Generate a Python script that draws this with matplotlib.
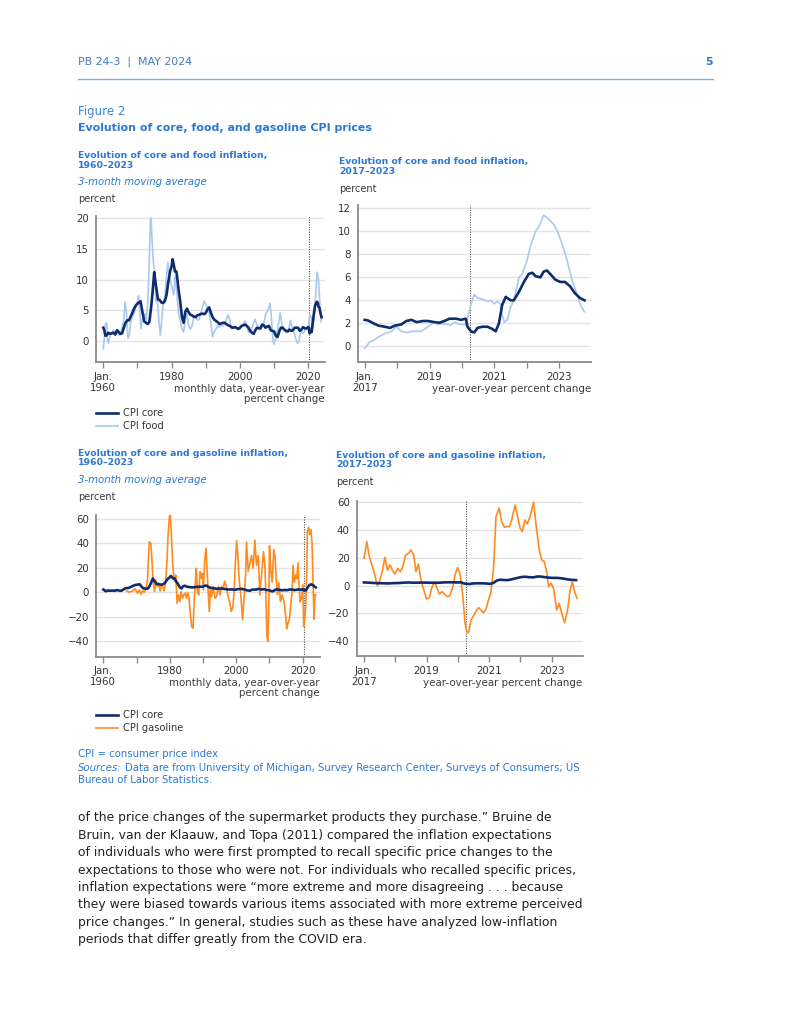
import matplotlib
matplotlib.use('Agg')
import matplotlib.pyplot as plt
from matplotlib.lines import Line2D

# ---------------- data ----------------
core_long = [(1960.0, 2.2), (1960.3, 1.8), (1960.6, 0.9), (1961.0, 1.0), (1961.5, 1.4), (1962.0, 1.2),
             (1962.5, 1.3), (1963.0, 1.4), (1963.5, 1.1), (1964.0, 1.8), (1964.5, 1.5), (1965.0, 1.2),
             (1965.5, 1.3), (1966.0, 2.2), (1966.5, 3.0), (1967.0, 3.4), (1967.5, 3.4), (1968.0, 4.0),
             (1968.5, 4.6), (1969.0, 5.3), (1969.5, 5.8), (1970.0, 6.1), (1970.5, 6.3), (1970.9, 6.5),
             (1971.5, 4.6), (1972.0, 3.2), (1972.5, 3.0), (1973.0, 2.8), (1973.5, 3.2), (1974.0, 5.5),
             (1974.4, 7.8), (1974.9, 11.2), (1975.3, 9.5), (1975.7, 8.0), (1976.0, 6.8), (1976.5, 6.7),
             (1977.0, 6.3), (1977.5, 6.2), (1978.0, 6.5), (1978.5, 7.5), (1979.0, 9.5), (1979.5, 11.2),
             (1980.0, 12.2), (1980.3, 13.3), (1980.7, 12.2), (1981.0, 11.3), (1981.4, 11.3), (1981.7, 10.0),
             (1982.0, 8.5), (1982.5, 6.5), (1983.0, 4.0), (1983.5, 3.0), (1984.0, 4.8), (1984.5, 5.3),
             (1985.0, 4.7), (1985.5, 4.3), (1986.0, 4.2), (1986.5, 4.0), (1987.0, 3.9), (1987.5, 4.2),
             (1988.0, 4.3), (1988.5, 4.4), (1989.0, 4.5), (1989.5, 4.4), (1990.0, 4.6), (1990.5, 5.2),
             (1991.0, 5.5), (1991.5, 4.6), (1992.0, 3.9), (1992.5, 3.5), (1993.0, 3.3), (1993.5, 3.1),
             (1994.0, 2.8), (1994.5, 2.9), (1995.0, 3.0), (1995.5, 3.0), (1996.0, 2.8), (1996.5, 2.6),
             (1997.0, 2.5), (1997.5, 2.3), (1998.0, 2.2), (1998.5, 2.3), (1999.0, 2.2), (1999.5, 2.0),
             (2000.0, 2.2), (2000.5, 2.5), (2001.0, 2.6), (2001.5, 2.7), (2002.0, 2.5), (2002.5, 2.2),
             (2003.0, 1.7), (2003.5, 1.4), (2004.0, 1.2), (2004.5, 1.8), (2005.0, 2.2), (2005.5, 2.1),
             (2006.0, 2.1), (2006.5, 2.7), (2007.0, 2.6), (2007.5, 2.2), (2008.0, 2.4), (2008.5, 2.5),
             (2009.0, 1.8), (2009.5, 1.7), (2010.0, 1.6), (2010.5, 0.9), (2011.0, 0.7), (2011.5, 1.6),
             (2012.0, 2.2), (2012.5, 2.2), (2013.0, 1.9), (2013.5, 1.7), (2014.0, 1.6), (2014.5, 1.9),
             (2015.0, 1.7), (2015.5, 1.8), (2016.0, 2.2), (2016.5, 2.2), (2017.0, 2.2), (2017.5, 1.7),
             (2018.0, 1.9), (2018.5, 2.3), (2019.0, 2.1), (2019.5, 2.1), (2020.0, 2.3), (2020.2, 2.2),
             (2020.4, 1.3), (2020.7, 1.7), (2021.0, 1.5), (2021.3, 3.0), (2021.6, 4.3), (2022.0, 5.8),
             (2022.3, 6.2), (2022.6, 6.4), (2022.8, 6.2), (2023.0, 5.6), (2023.3, 5.4), (2023.6, 4.5),
             (2023.9, 3.9)]

food_long = [(1960.0, -1.2), (1960.3, 0.5), (1960.6, 2.8), (1961.0, 3.0), (1961.2, 0.2), (1961.5, -0.3),
             (1962.0, 1.0), (1962.5, 1.5), (1963.0, 1.8), (1963.5, 1.0), (1964.0, 1.8), (1964.5, 1.0),
             (1965.0, 1.2), (1965.5, 2.2), (1966.0, 3.5), (1966.4, 6.4), (1966.8, 4.5), (1967.2, 0.5),
             (1967.6, 1.0), (1968.0, 3.0), (1968.5, 4.0), (1969.0, 4.5), (1969.5, 5.5), (1970.0, 6.5),
             (1970.3, 7.4), (1970.7, 5.0), (1971.0, 2.0), (1971.4, 3.5), (1971.8, 4.2), (1972.2, 4.5),
             (1972.6, 3.5), (1973.0, 6.0), (1973.4, 12.0), (1973.8, 19.5), (1974.0, 20.0), (1974.3, 16.0),
             (1974.7, 12.5), (1975.0, 11.5), (1975.4, 6.5), (1975.8, 7.0), (1976.3, 3.0), (1976.7, 1.0),
             (1977.2, 4.0), (1977.6, 6.5), (1978.0, 7.0), (1978.5, 10.5), (1978.9, 12.8), (1979.3, 10.5),
             (1979.8, 9.5), (1980.2, 8.5), (1980.6, 7.5), (1981.0, 10.5), (1981.5, 8.0), (1982.0, 4.5),
             (1982.5, 3.5), (1983.0, 2.0), (1983.5, 1.5), (1984.0, 3.5), (1984.5, 4.5), (1985.0, 2.5),
             (1985.5, 2.0), (1986.0, 2.5), (1986.5, 4.0), (1987.0, 4.2), (1987.5, 3.5), (1988.0, 3.5),
             (1988.5, 4.5), (1989.0, 5.5), (1989.5, 6.5), (1990.0, 6.0), (1990.5, 5.5), (1991.0, 4.5),
             (1991.5, 3.0), (1992.0, 0.7), (1992.4, 1.5), (1993.0, 2.0), (1993.5, 2.5), (1994.0, 2.3),
             (1994.5, 2.6), (1995.0, 2.5), (1995.5, 2.8), (1996.0, 3.5), (1996.5, 4.3), (1997.0, 3.5),
             (1997.5, 2.0), (1998.0, 2.3), (1998.5, 2.3), (1999.0, 2.0), (1999.5, 2.0), (2000.0, 2.0),
             (2000.5, 2.5), (2001.0, 2.8), (2001.5, 3.3), (2002.0, 2.5), (2002.5, 1.5), (2003.0, 1.4),
             (2003.5, 2.2), (2004.0, 3.0), (2004.4, 3.6), (2005.0, 2.7), (2005.5, 2.3), (2006.0, 2.0),
             (2006.5, 2.4), (2007.0, 3.0), (2007.6, 4.5), (2008.0, 4.8), (2008.5, 5.5), (2008.8, 6.2),
             (2009.2, 4.0), (2009.6, 0.5), (2009.9, -0.5), (2010.4, 0.4), (2010.8, 1.0), (2011.3, 2.8),
             (2011.8, 4.6), (2012.2, 3.0), (2012.6, 2.0), (2013.0, 1.8), (2013.5, 1.4), (2014.0, 1.5),
             (2014.5, 2.5), (2014.8, 3.4), (2015.3, 2.2), (2015.8, 1.5), (2016.3, 0.5), (2016.8, -0.3),
             (2017.2, -0.2), (2017.6, 1.2), (2018.0, 1.6), (2018.5, 1.3), (2019.0, 1.8), (2019.5, 2.0),
             (2020.0, 1.9), (2020.3, 3.8), (2020.5, 4.3), (2021.0, 3.8), (2021.4, 2.3), (2021.8, 4.5),
             (2022.2, 8.0), (2022.6, 11.2), (2023.0, 10.0), (2023.4, 6.0), (2023.8, 3.2)]

gas_long = [(1967.0, 1.0), (1967.8, 0.0), (1968.8, 1.0), (1969.6, 2.7), (1970.3, -0.8), (1970.8, 1.9),
            (1971.3, -1.6), (1971.8, 1.1), (1972.3, 0.0), (1972.8, 2.7), (1973.3, 10.0), (1973.8, 41.0),
            (1974.3, 40.0), (1974.6, 27.8), (1975.0, 8.7), (1975.4, 0.5), (1975.8, 10.0), (1976.2, 4.6),
            (1976.6, 7.3), (1977.1, 1.0), (1977.5, 6.0), (1977.9, 4.6), (1978.3, 1.0), (1978.7, 7.3),
            (1979.1, 22.3), (1979.5, 46.8), (1979.9, 61.8), (1980.2, 63.0), (1980.6, 38.6), (1980.9, 22.3),
            (1981.2, 14.0), (1981.5, 8.7), (1981.8, 14.0), (1982.2, -9.0), (1982.6, -2.2), (1983.0, -7.6),
            (1983.4, 0.5), (1983.8, -4.9), (1984.2, -2.2), (1984.6, -0.8), (1985.0, -4.9), (1985.4, 0.0),
            (1985.8, -4.9), (1986.2, -18.5), (1986.6, -28.0), (1987.0, -29.4), (1987.4, -4.9), (1987.7, 8.7),
            (1988.0, 19.6), (1988.3, 0.5), (1988.7, -2.2), (1989.1, 16.9), (1989.5, 11.4), (1989.8, 15.5),
            (1990.1, 1.9), (1990.5, 25.0), (1990.9, 36.0), (1991.3, 14.0), (1991.6, -2.2), (1991.9, -15.7),
            (1992.2, 3.2), (1992.6, -3.5), (1993.1, 4.6), (1993.6, -4.9), (1994.1, -3.5), (1994.6, 4.6),
            (1995.1, -2.2), (1995.6, 4.6), (1996.1, 3.0), (1996.5, 9.0), (1997.0, 5.0), (1997.5, -3.0),
            (1998.0, -8.0), (1998.5, -15.7), (1999.0, -12.0), (1999.4, 2.0), (1999.7, 22.0), (2000.1, 42.0),
            (2000.5, 30.0), (2000.9, 8.6), (2001.3, 0.5), (2001.9, -22.4), (2002.3, -7.6), (2002.8, 14.0),
            (2003.1, 41.0), (2003.6, 16.8), (2004.0, 22.0), (2004.6, 30.0), (2005.1, 19.5), (2005.6, 42.4),
            (2006.1, 22.0), (2006.6, 30.0), (2007.1, -2.2), (2007.6, 14.0), (2008.2, 33.0), (2008.6, 22.0),
            (2008.9, 0.5), (2009.2, -35.0), (2009.5, -40.0), (2009.8, -10.0), (2010.0, 38.0), (2010.4, 18.0),
            (2010.8, 8.0), (2011.3, 35.0), (2011.7, 28.0), (2012.0, 12.0), (2012.4, -2.0), (2012.8, 8.0),
            (2013.3, -7.6), (2013.8, -2.0), (2014.4, -8.0), (2014.9, -20.0), (2015.2, -30.0), (2015.6, -25.0),
            (2016.0, -22.0), (2016.4, -10.0), (2016.8, 0.0), (2017.1, 22.0), (2017.5, 8.0), (2017.9, 14.0),
            (2018.2, 11.0), (2018.6, 24.0), (2018.9, 5.0), (2019.2, -8.0), (2019.6, -5.0), (2020.0, 6.0),
            (2020.3, -28.0), (2020.6, -22.0), (2020.9, -12.0), (2021.2, 14.0), (2021.4, 50.0), (2021.8, 53.0),
            (2022.1, 47.0), (2022.5, 51.0), (2022.8, 40.0), (2023.1, 10.0), (2023.4, -22.0), (2023.7, -2.0),
            (2023.9, -2.0)]

core_short = [(2017.0, 2.3), (2017.1, 2.25), (2017.27, 2.0), (2017.42, 1.8), (2017.62, 1.7), (2017.78, 1.6),
              (2017.93, 1.8), (2018.13, 1.9), (2018.28, 2.2), (2018.44, 2.3), (2018.6, 2.1), (2018.8, 2.2),
              (2018.95, 2.2), (2019.15, 2.1), (2019.3, 2.05), (2019.46, 2.2), (2019.61, 2.4), (2019.82, 2.4),
              (2019.97, 2.3), (2020.12, 2.4), (2020.17, 1.7), (2020.28, 1.3), (2020.38, 1.2), (2020.48, 1.6),
              (2020.63, 1.7), (2020.79, 1.7), (2020.94, 1.5), (2021.04, 1.3), (2021.14, 2.0), (2021.24, 3.6),
              (2021.35, 4.3), (2021.5, 4.0), (2021.6, 4.0), (2021.76, 4.75), (2021.91, 5.6), (2022.06, 6.3),
              (2022.17, 6.4), (2022.27, 6.1), (2022.42, 6.0), (2022.52, 6.5), (2022.62, 6.6), (2022.72, 6.3),
              (2022.88, 5.8), (2023.03, 5.6), (2023.18, 5.6), (2023.34, 5.2), (2023.49, 4.6), (2023.64, 4.2),
              (2023.78, 4.0)]

food_short = [(2017.0, -0.2), (2017.16, 0.4), (2017.27, 0.5), (2017.42, 0.8), (2017.62, 1.1), (2017.83, 1.3),
              (2017.98, 1.7), (2018.13, 1.3), (2018.32, 1.2), (2018.44, 1.3), (2018.74, 1.3), (2018.95, 1.7),
              (2019.15, 2.1), (2019.26, 1.9), (2019.46, 1.95), (2019.66, 1.85), (2019.77, 2.1), (2019.92, 1.9),
              (2020.12, 1.9), (2020.17, 2.4), (2020.28, 3.7), (2020.38, 4.5), (2020.48, 4.2), (2020.63, 4.1),
              (2020.79, 3.9), (2020.89, 4.0), (2020.99, 3.7), (2021.09, 3.9), (2021.19, 3.7), (2021.24, 2.7),
              (2021.31, 2.1), (2021.4, 2.3), (2021.5, 3.4), (2021.6, 4.0), (2021.76, 6.0), (2021.86, 6.3),
              (2022.01, 7.5), (2022.11, 8.7), (2022.27, 10.0), (2022.37, 10.4), (2022.52, 11.4), (2022.67, 11.1),
              (2022.83, 10.6), (2022.93, 10.1), (2023.08, 9.0), (2023.24, 7.5), (2023.39, 5.8), (2023.54, 4.6),
              (2023.64, 3.7), (2023.77, 3.0)]

gas_short = [(2017.0, 19.7), (2017.09, 31.7), (2017.16, 22.0), (2017.24, 16.0), (2017.33, 9.0), (2017.43, 0.0),
             (2017.51, 4.0), (2017.58, 10.0), (2017.67, 20.4), (2017.75, 11.0), (2017.83, 15.0), (2017.91, 11.0),
             (2017.99, 8.4), (2018.08, 12.5), (2018.16, 10.0), (2018.24, 13.7), (2018.33, 22.0), (2018.42, 23.3),
             (2018.5, 25.7), (2018.59, 22.0), (2018.66, 10.0), (2018.74, 15.6), (2018.82, 4.0), (2018.91, -3.0),
             (2019.0, -9.6), (2019.09, -8.6), (2019.16, -2.0), (2019.25, 2.9), (2019.32, -0.7), (2019.41, -6.0),
             (2019.5, -4.3), (2019.59, -6.7), (2019.68, -7.9), (2019.75, -7.0), (2019.84, -0.7), (2019.91, 7.7),
             (2019.99, 13.0), (2020.07, 8.9), (2020.16, -7.9), (2020.23, -27.0), (2020.28, -33.0), (2020.34, -33.8),
             (2020.42, -24.7), (2020.5, -21.8), (2020.57, -18.7), (2020.66, -15.8), (2020.74, -17.5), (2020.82, -19.4),
             (2020.89, -17.5), (2020.98, -10.3), (2021.06, -4.3), (2021.14, 12.5), (2021.22, 49.7), (2021.32, 55.7),
             (2021.4, 46.0), (2021.49, 42.0), (2021.56, 42.5), (2021.65, 42.5), (2021.72, 47.3), (2021.83, 58.0),
             (2021.91, 49.7), (2021.99, 41.3), (2022.06, 38.9), (2022.14, 47.3), (2022.22, 44.4), (2022.31, 49.7),
             (2022.42, 60.0), (2022.5, 43.7), (2022.6, 25.7), (2022.68, 18.5), (2022.76, 17.3), (2022.84, 10.0),
             (2022.9, -0.7), (2022.98, 1.7), (2023.06, -2.0), (2023.16, -17.5), (2023.24, -12.7), (2023.32, -20.0),
             (2023.41, -26.6), (2023.5, -18.7), (2023.59, -3.1), (2023.66, 2.9), (2023.73, -4.3), (2023.81, -9.1)]

covid_mark = 2020.25
long_ticks = [1960, 1970, 1980, 1990, 2000, 2010, 2020]
long_labels = ['Jan.\n1960', '', '1980', '', '2000', '', '2020']
short_ticks = [2017, 2018, 2019, 2020, 2021, 2022, 2023]
short_labels = ['Jan.\n2017', '', '2019', '', '2021', '', '2023']

body_lines = [
    "of the price changes of the supermarket products they purchase.\u201d Bruine de",
    "Bruin, van der Klaauw, and Topa (2011) compared the inflation expectations",
    "of individuals who were first prompted to recall specific price changes to the",
    "expectations to those who were not. For individuals who recalled specific prices,",
    "inflation expectations were \u201cmore extreme and more disagreeing . . . because",
    "they were biased towards various items associated with more extreme perceived",
    "price changes.\u201d In general, studies such as these have analyzed low-inflation",
    "periods that differ greatly from the COVID era.",
]

# ---------------- style ----------------
NAVY = '#0e2d6d'
LIGHT = '#a9c9ee'
ORANGE = '#ff8b1f'
TBLUE = '#2a78d2'
HBLUE = '#3f7cc6'
GRID = '#e4e4e4'
SPINE = '#8a8a8a'
TXT = '#333333'

plt.rcParams['font.family'] = ['DejaVu Sans']
plt.rcParams['axes.unicode_minus'] = True

W, H = 791, 1024
fig = plt.figure(figsize=(W / 100, H / 100), dpi=100)
fig.patch.set_facecolor('white')


def T(x, y, s, **kw):
    kw.setdefault('va', 'center')
    kw.setdefault('ha', 'left')
    return fig.text(x / W, 1 - y / H, s, **kw)


def add_ax(l, t, r, b):
    return fig.add_axes([l / W, 1 - b / H, (r - l) / W, (b - t) / H])


def fmt(v):
    return ('\u2212' + str(abs(v))) if v < 0 else str(v)


def style(ax, xlim, ylim, yticks, xticks, xlabels):
    ax.set_xlim(*xlim)
    ax.set_ylim(*ylim)
    ax.set_yticks(yticks)
    ax.set_yticklabels([fmt(v) for v in yticks])
    ax.yaxis.grid(True, color=GRID, lw=1.0)
    ax.set_axisbelow(True)
    for s in ['top', 'right']:
        ax.spines[s].set_visible(False)
    for s in ['left', 'bottom']:
        ax.spines[s].set_color(SPINE)
        ax.spines[s].set_linewidth(1.3)
    ax.tick_params(axis='y', length=0, pad=5, labelsize=7.4, labelcolor=TXT)
    ax.set_xticks(xticks)
    ax.set_xticklabels(xlabels, linespacing=1.1)
    ax.tick_params(axis='x', length=4, width=1, color=SPINE, pad=3, labelsize=7.4, labelcolor=TXT)
    ax.axvline(covid_mark, color='#555555', lw=0.8, ls=(0, (1, 1.2)), zorder=1.5)
    ax.patch.set_alpha(0)


def xy(pairs):
    return [p[0] for p in pairs], [p[1] for p in pairs]


# Panel 1: core and food, long
ax1 = add_ax(96, 216, 325, 362)
style(ax1, (1957.86, 2024.9), (-3.35, 20.3), [0, 5, 10, 15, 20], long_ticks, long_labels)
ax1.plot(*xy(food_long), color=LIGHT, lw=1.2, zorder=2)
ax1.plot(*xy(core_long), color=NAVY, lw=1.9, zorder=3)

# Panel 2: core and food, short
ax2 = add_ax(357.7, 205, 591, 362)
style(ax2, (2016.784, 2023.98), (-1.37, 12.3), [0, 2, 4, 6, 8, 10, 12], short_ticks, short_labels)
ax2.plot(*xy(food_short), color=LIGHT, lw=1.2, zorder=2)
ax2.plot(*xy(core_short), color=NAVY, lw=1.9, zorder=3)

# Panel 3: core and gasoline, long
ax3 = add_ax(96, 515, 320, 656.7)
style(ax3, (1957.8, 2025.2), (-52.6, 63), [-40, -20, 0, 20, 40, 60], long_ticks, long_labels)
ax3.plot(*xy(gas_long), color=ORANGE, lw=1.2, zorder=2)
ax3.plot(*xy(core_long), color=NAVY, lw=1.9, zorder=3)

# Panel 4: core and gasoline, short
ax4 = add_ax(356.7, 501, 583.3, 656)
style(ax4, (2016.767, 2024.01), (-50.6, 60.9), [-40, -20, 0, 20, 40, 60], short_ticks, short_labels)
ax4.plot(*xy(gas_short), color=ORANGE, lw=1.2, zorder=2)
ax4.plot(*xy(core_short), color=NAVY, lw=1.9, zorder=3)

# ---------------- page text ----------------
T(78, 62, 'PB 24-3  |  MAY 2024', fontsize=7.9, color=HBLUE)
T(713, 62, '5', fontsize=7.8, color=TBLUE, fontweight='bold', ha='right')
fig.add_artist(Line2D([78 / W, 713 / W], [1 - 79 / H] * 2, color='#7aaee3', lw=1.0))
T(78, 111, 'Figure 2', fontsize=8.5, color='#3a86d6')
T(78, 128, 'Evolution of core, food, and gasoline CPI prices', fontsize=7.95, color=TBLUE, fontweight='bold')

# panel headings
HEAD = dict(fontsize=6.65, color=TBLUE, fontweight='bold', linespacing=1.05)
T(78, 160.5, 'Evolution of core and food inflation,\n1960\u20132023', **HEAD)
T(78, 182, '3-month moving average', fontsize=7.3, color=TBLUE, style='italic')
T(78, 199, 'percent', fontsize=7.0, color='#3a3a3a')

T(339, 166.5, 'Evolution of core and food inflation,\n2017\u20132023', **HEAD)
T(339, 189, 'percent', fontsize=7.0, color='#3a3a3a')

T(78, 458, 'Evolution of core and gasoline inflation,\n1960\u20132023', **HEAD)
T(78, 480, '3-month moving average', fontsize=7.3, color=TBLUE, style='italic')
T(78, 497, 'percent', fontsize=7.0, color='#3a3a3a')

T(336, 460, 'Evolution of core and gasoline inflation,\n2017\u20132023', **HEAD)
T(336, 482, 'percent', fontsize=7.0, color='#3a3a3a')

# axis notes
NOTE = dict(fontsize=7.4, color='#3d3d3d')
T(325, 394.5, 'monthly data, year-over-year\npercent change', ha='right', multialignment='right',
  linespacing=1.0, **NOTE)
T(591, 389, 'year-over-year percent change', ha='right', **NOTE)
T(320, 688.5, 'monthly data, year-over-year\npercent change', ha='right', multialignment='right',
  linespacing=1.0, **NOTE)
T(582, 683, 'year-over-year percent change', ha='right', **NOTE)

# legends
for (y0, lab, col, lw) in [(413, 'CPI core', NAVY, 1.9), (426, 'CPI food', LIGHT, 1.2),
                           (715, 'CPI core', NAVY, 1.9), (728, 'CPI gasoline', ORANGE, 1.2)]:
    fig.add_artist(Line2D([96 / W, 118 / W], [1 - y0 / H] * 2, color=col, lw=lw))
    T(123, y0, lab, fontsize=7.1, color='#333333')

# footnotes
T(78, 754, 'CPI = consumer price index', fontsize=7.3, color=TBLUE)
fig.canvas.draw()
r = fig.canvas.get_renderer()
s1 = T(78, 768, 'Sources:', fontsize=7.3, color=TBLUE, style='italic')
w1 = s1.get_window_extent(renderer=r).width
T(78 + w1 + 3, 768, 'Data are from University of Michigan, Survey Research Center, Surveys of Consumers; US',
  fontsize=7.3, color=TBLUE)
T(78, 780, 'Bureau of Labor Statistics.', fontsize=7.3, color=TBLUE)

# body text
for i, line in enumerate(body_lines):
    T(78, 818 + i * 17.35, line, fontsize=8.95, color='#222222')

fig.savefig('out.png', dpi=100, facecolor='white')
